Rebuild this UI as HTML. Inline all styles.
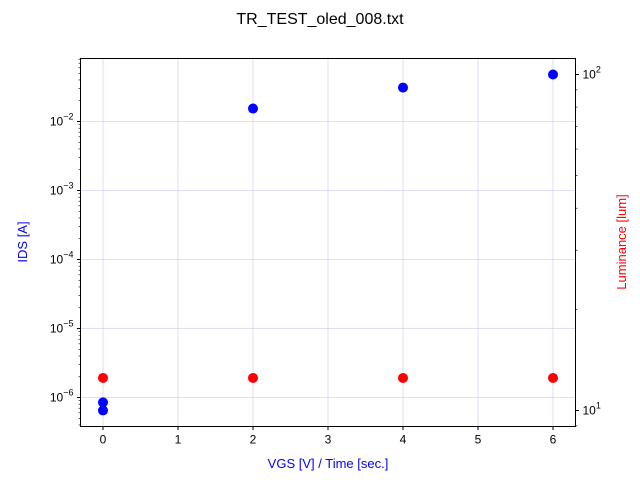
<!DOCTYPE html>
<html><head><meta charset="utf-8"><style>
body{margin:0;background:#fff;}
svg{display:block;font-family:"Liberation Sans","DejaVu Sans",sans-serif;}
</style></head><body>
<svg id="chart" width="640" height="480">
<text x="320" y="24" text-anchor="middle" font-size="16">TR_TEST_oled_008.txt</text>
<g id="grid"></g>
<g id="marks"></g>
<rect x="80.5" y="58.5" width="495" height="368" fill="none" stroke="#000" stroke-width="1"/>
<g id="axes"></g>
<text x="328" y="468" text-anchor="middle" font-size="13" fill="blue">VGS [V] / Time [sec.]</text>
<text transform="translate(27,242) rotate(-90)" text-anchor="middle" font-size="13" fill="blue">IDS [A]</text>
<text transform="translate(626,242) rotate(-90)" text-anchor="middle" font-size="13" fill="red">Luminance [lum]</text>
</svg>
<script>
const idsX=[0,0,2,4,6];
const idsY=[8.5e-7,6.5e-7,0.0154,0.031,0.048];
const lumX=[0,2,4,6];
const lumY=[12.5,12.5,12.5,12.5];
const xTicks=[0,1,2,3,4,5,6];
const yExp=[-6,-5,-4,-3,-2];
const NS="http://www.w3.org/2000/svg";
const L=80.5,R=575.5,T=58.5,B=426.5;
function xs(v){return L+(v+0.3)/6.6*(R-L);}
const yLo=-6.42,yHi=-1.087;
function ys(v){return B-(Math.log10(v)-yLo)/(yHi-yLo)*(B-T);}
const y2Lo=1-16/336,y2Hi=2+16/336;
function ys2(v){return B-(Math.log10(v)-y2Lo)/(y2Hi-y2Lo)*(B-T);}
function mk(tag,at,parent){const e=document.createElementNS(NS,tag);for(const k in at)e.setAttribute(k,at[k]);document.getElementById(parent).appendChild(e);return e;}
for(const t of xTicks){
 const x=xs(t);
 const g=mk('line',{x1:x,x2:x,y1:T,y2:B,stroke:'#b0b0f0','stroke-opacity':0.4,'stroke-width':1},'grid');
 
 
 mk('line',{x1:x,x2:x,y1:B,y2:B+3.5,stroke:'#000'},'axes');
 const tx=mk('text',{x:x,y:B+17,'text-anchor':'middle','font-size':12},'axes');
 tx.textContent=t;
 
 
}
for(const e of yExp){
 const y=ys(Math.pow(10,e));
 const g=mk('line',{x1:L,x2:R,y1:y,y2:y,stroke:'#b0b0f0','stroke-opacity':0.4,'stroke-width':1},'grid');
 
 
 mk('line',{x1:L-3.5,x2:L,y1:y,y2:y,stroke:'#000'},'axes');
 const tx=mk('text',{x:L-7,y:y+4,'text-anchor':'end','font-size':12},'axes');
 tx.innerHTML='10<tspan dy="-6" font-size="9">'+(e<0?'\u2212'+(-e):e)+'</tspan>';
 
 
}
for(let e=-7;e<=-1;e++)for(let m=2;m<=9;m++){const v=m*Math.pow(10,e);const y=ys(v);if(y>=T&&y<=B)mk('line',{x1:L-2,x2:L,y1:y,y2:y,stroke:'#000','stroke-width':0.6},'axes');}
for(const e of [1,2]){
 const y=ys2(Math.pow(10,e));
 mk('line',{x1:R,x2:R+3.5,y1:y,y2:y,stroke:'#000'},'axes');
 const tx=mk('text',{x:R+7,y:y+4,'font-size':12},'axes');
 tx.innerHTML='10<tspan dy="-6" font-size="9">'+e+'</tspan>';
 
 
}
for(let m=2;m<=9;m++){const y=ys2(m*10);mk('line',{x1:R,x2:R+2,y1:y,y2:y,stroke:'#000','stroke-width':0.6},'axes');}
const y9=ys2(9);mk('line',{x1:R,x2:R+2,y1:y9,y2:y9,stroke:'#000','stroke-width':0.6},'axes');
for(let i=0;i<idsX.length;i++){
 const c=mk('circle',{cx:xs(idsX[i]),cy:ys(idsY[i]),r:5,fill:'blue'},'marks');
 
 
}
for(let i=0;i<lumX.length;i++){
 const c=mk('circle',{cx:xs(lumX[i]),cy:ys2(lumY[i]),r:5,fill:'red'},'marks');
 
 
}
</script>
</body></html>
